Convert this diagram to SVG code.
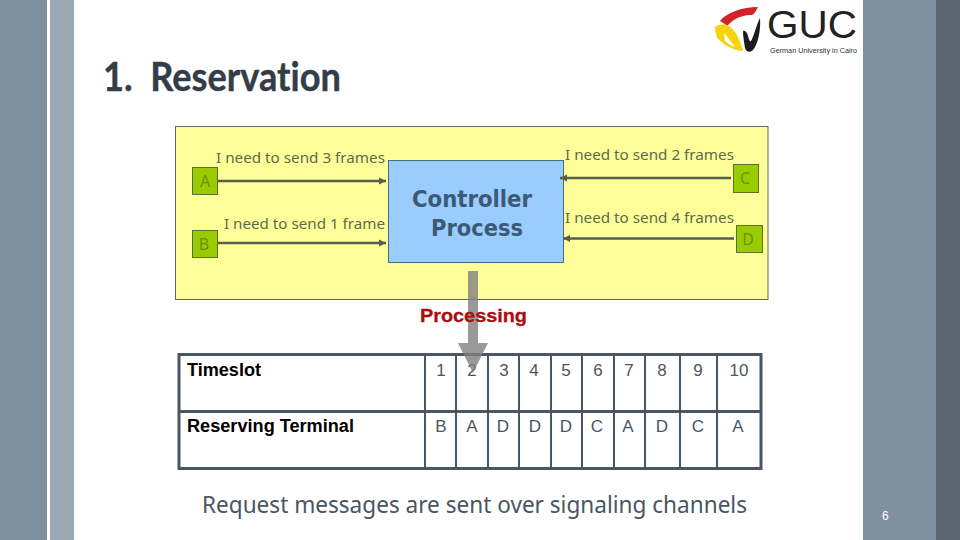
<svg xmlns="http://www.w3.org/2000/svg" width="960" height="540" viewBox="0 0 960 540">
<style>
.lab{font-family:"Noto Sans","DejaVu Sans",sans-serif;font-size:15px;fill:#5c6b4e}
.term{font-family:"Noto Sans","DejaVu Sans",sans-serif;font-size:16px;fill:#6f8f10;text-anchor:middle}
.box{fill:#99cc00;stroke:#5f6f2a;stroke-width:1}
.conn{stroke:#55604a;stroke-width:2.4;fill:none}
.th{font-family:"Liberation Sans",sans-serif;font-size:17.5px;font-weight:bold;fill:#000}
.td{font-family:"Liberation Sans",sans-serif;font-size:17px;fill:#4a5661;text-anchor:middle}
.grid{stroke:#4a5661;fill:none}
.ctl{font-family:"DejaVu Sans",sans-serif;font-weight:bold;font-size:23px;fill:#3d5a75}
</style>
<defs>
<marker id="ah" markerUnits="userSpaceOnUse" markerWidth="8" markerHeight="8" refX="7" refY="4" orient="auto"><path d="M0,0.5 L7,4 L0,7.5 Z" fill="#55604a"/></marker>
</defs>
<rect width="960" height="540" fill="#fff"/>
<rect x="0" y="0" width="47" height="540" fill="#7f909f"/>
<rect x="50" y="0" width="24" height="540" fill="#9aa8b5"/>
<rect x="863" y="0" width="73" height="540" fill="#7f909f"/>
<rect x="936" y="0" width="24" height="540" fill="#5a6672"/>
<text x="103" y="91" font-family="Lato,sans-serif" font-weight="bold" font-size="40" fill="#333d47" stroke="#333d47" stroke-width="0.4" textLength="238" lengthAdjust="spacingAndGlyphs" style="font-variant-ligatures:none" xml:space="preserve">1.  Reservation</text>
<g id="logo">
<path d="M720,21 C726,13 742,7 758,7 C756,11 754,14 752,15 C745,15 738,17 734,20 C731,22 729,24 727,26 C725,24 722,22 720,21 Z" fill="#d2232a"/>
<path d="M715,27 C719,24 725,24 729,26 C735,30 739,37 743,51 C735,51 725,46 717,38 C716,34 715,30 715,27 Z" fill="#f5d410"/>
<path d="M724,33 C727,36 731,42 735,47 C730,45 727,43 725,41 Z" fill="#fff"/>
<path d="M743,31 C745,30 747,32 748,36 C749,40 750,42 751,41 C754,36 756,26 760,18 C761,30 758,44 753,50 C750,53 746,52 745,48 C744,42 743,36 743,31 Z" fill="#1c1c1c"/>
<text x="767" y="37.5" font-family="Liberation Sans,sans-serif" font-size="39" fill="#222" textLength="90" lengthAdjust="spacingAndGlyphs">GUC</text>
<text x="770" y="52.5" font-family="Liberation Sans,sans-serif" font-size="7.5" fill="#333" textLength="87" lengthAdjust="spacingAndGlyphs">German University in Cairo</text>
</g>
<g id="panel"><rect x="175.5" y="126.5" width="592.5" height="173" fill="#ffff99" stroke="#5f6b5a" stroke-width="1"/></g>
<g id="controller">
<rect x="388.5" y="160.5" width="175" height="102" fill="#99ccff" stroke="#4a6a80" stroke-width="1"/>
<text class="ctl" x="412" y="207" textLength="120" lengthAdjust="spacingAndGlyphs">Controller</text>
<text class="ctl" x="431" y="236" textLength="92" lengthAdjust="spacingAndGlyphs">Process</text>
</g>
<g id="connectors">
<line class="conn" x1="217" y1="181" x2="386" y2="181" marker-end="url(#ah)"/>
<line class="conn" x1="217" y1="243" x2="386" y2="243" marker-end="url(#ah)"/>
<line class="conn" x1="731" y1="178" x2="560" y2="178" marker-end="url(#ah)"/>
<line class="conn" x1="734" y1="238.5" x2="563" y2="238.5" marker-end="url(#ah)"/>
</g>
<g id="node-a"><rect class="box" x="192.5" y="167.5" width="25" height="27"/><text class="term" x="205" y="187">A</text></g>
<g id="node-b"><rect class="box" x="192.5" y="230.5" width="25" height="27"/><text class="term" x="204" y="250">B</text></g>
<g id="node-c"><rect class="box" x="733.5" y="164.5" width="25" height="28"/><text class="term" x="745" y="184">C</text></g>
<g id="node-d"><rect class="box" x="736.5" y="225.5" width="26" height="27"/><text class="term" x="748" y="245">D</text></g>
<text class="lab" x="216" y="163" textLength="169" lengthAdjust="spacingAndGlyphs">I need to send 3 frames</text>
<text class="lab" x="224" y="229" textLength="161" lengthAdjust="spacingAndGlyphs">I need to send 1 frame</text>
<text class="lab" x="565" y="160" textLength="169" lengthAdjust="spacingAndGlyphs">I need to send 2 frames</text>
<text class="lab" x="565" y="223" textLength="169" lengthAdjust="spacingAndGlyphs">I need to send 4 frames</text>
<g id="table">
<rect class="grid" x="179" y="354.5" width="582" height="114" stroke-width="3"/>
<path class="grid" stroke-width="3" d="M179,411.5H761"/>
<path class="grid" stroke-width="2" d="M425,354V468M456,354V468M488,354V468M519,354V468M551,354V468M582,354V468M614,354V468M645,354V468M680,354V468M717,354V468"/>
<text class="th" x="187" y="376" textLength="74" lengthAdjust="spacingAndGlyphs">Timeslot</text>
<text class="th" x="187" y="432" textLength="167" lengthAdjust="spacingAndGlyphs">Reserving Terminal</text>
<text class="td" x="441" y="376">1</text><text class="td" x="472" y="376">2</text><text class="td" x="504" y="376">3</text><text class="td" x="534" y="376">4</text><text class="td" x="566" y="376">5</text><text class="td" x="598" y="376">6</text><text class="td" x="629" y="376">7</text><text class="td" x="662" y="376">8</text><text class="td" x="698" y="376">9</text><text class="td" x="739" y="376">10</text>
<text class="td" x="441" y="432">B</text><text class="td" x="472" y="432">A</text><text class="td" x="503" y="432">D</text><text class="td" x="535" y="432">D</text><text class="td" x="566" y="432">D</text><text class="td" x="597" y="432">C</text><text class="td" x="628" y="432">A</text><text class="td" x="662" y="432">D</text><text class="td" x="698" y="432">C</text><text class="td" x="738" y="432">A</text>
</g>
<g id="processing-arrow"><path d="M468,271H478V343H488L473,373L458,343H468Z" fill="#808080" fill-opacity="0.8"/></g>
<text x="420" y="322" font-family="Liberation Sans,sans-serif" font-weight="bold" font-size="19" fill="#a80f0f" stroke="#a80f0f" stroke-width="0.3" textLength="107" lengthAdjust="spacingAndGlyphs">Processing</text>
<text x="202" y="513" font-family="Noto Sans,sans-serif" font-size="24" fill="#4a5661" textLength="545" lengthAdjust="spacingAndGlyphs">Request messages are sent over signaling channels</text>
<text x="882" y="520" font-family="Liberation Sans,sans-serif" font-size="12" fill="#fff">6</text>
</svg>
